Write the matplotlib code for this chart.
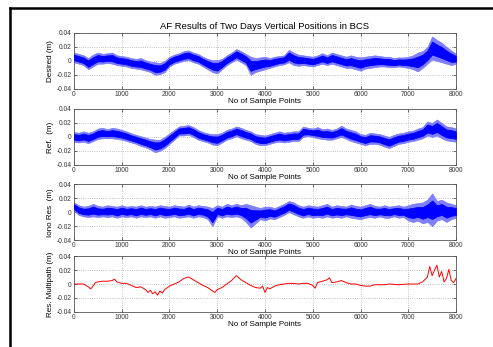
import numpy as np
import matplotlib
matplotlib.use('Agg')
import matplotlib.pyplot as plt
from matplotlib.lines import Line2D

plt.rcParams['font.family'] = ['Liberation Sans', 'DejaVu Sans']

# sample index for the envelope readings (every 100 samples)
samples = list(range(0, 8001, 100))

desired_hi = [0.012, 0.010, 0.008, 0.004, 0.009, 0.012, 0.010, 0.011, 0.012, 0.008,
              0.007, 0.006, 0.004, 0.003, 0.004, 0.001, -0.001, -0.002, -0.003, 0.000,
              0.006, 0.009, 0.011, 0.014, 0.015, 0.012, 0.010, 0.006, 0.003, 0.001,
              0.001, 0.003, 0.008, 0.012, 0.017, 0.014, 0.010, 0.006, 0.004, 0.005,
              0.006, 0.004, 0.006, 0.007, 0.008, 0.016, 0.012, 0.009, 0.008, 0.007,
              0.006, 0.008, 0.011, 0.008, 0.012, 0.010, 0.008, 0.006, 0.008, 0.006,
              0.005, 0.006, 0.007, 0.008, 0.007, 0.006, 0.006, 0.004, 0.005, 0.005,
              0.006, 0.008, 0.012, 0.014, 0.020, 0.035, 0.030, 0.026, 0.020, 0.015,
              0.010]
desired_lo = [-0.002, -0.004, -0.006, -0.012, -0.008, -0.004, -0.004, -0.003, -0.004, -0.006,
              -0.007, -0.008, -0.010, -0.011, -0.012, -0.014, -0.016, -0.020, -0.019, -0.016,
              -0.008, -0.004, -0.002, 0.000, 0.001, -0.002, -0.004, -0.008, -0.012, -0.016,
              -0.018, -0.012, -0.006, -0.002, 0.002, -0.002, -0.006, -0.020, -0.016, -0.014,
              -0.012, -0.010, -0.008, -0.006, -0.005, -0.002, -0.006, -0.007, -0.006, -0.007,
              -0.008, -0.006, -0.004, -0.006, -0.004, -0.006, -0.008, -0.010, -0.010, -0.012,
              -0.014, -0.011, -0.010, -0.009, -0.008, -0.008, -0.009, -0.009, -0.008, -0.009,
              -0.010, -0.012, -0.015, -0.010, -0.004, 0.002, 0.000, -0.002, -0.004, -0.006,
              -0.004]

ref_hi = [0.007, 0.006, 0.008, 0.006, 0.008, 0.012, 0.013, 0.011, 0.013, 0.012,
          0.010, 0.008, 0.005, 0.003, 0.001, -0.001, -0.003, -0.004, -0.004, 0.000,
          0.005, 0.010, 0.015, 0.016, 0.017, 0.014, 0.010, 0.007, 0.005, 0.004,
          0.004, 0.006, 0.010, 0.012, 0.015, 0.013, 0.010, 0.008, 0.004, 0.003,
          0.002, 0.004, 0.006, 0.008, 0.006, 0.007, 0.008, 0.008, 0.015, 0.013,
          0.012, 0.014, 0.011, 0.012, 0.010, 0.012, 0.016, 0.012, 0.010, 0.008,
          0.004, 0.003, 0.006, 0.005, 0.004, 0.002, 0.000, 0.003, 0.005, 0.006,
          0.008, 0.009, 0.012, 0.014, 0.022, 0.020, 0.025, 0.020, 0.015, 0.014,
          0.012]
ref_lo = [-0.007, -0.008, -0.007, -0.009, -0.006, -0.003, -0.002, -0.002, -0.002, -0.003,
          -0.004, -0.006, -0.008, -0.010, -0.013, -0.015, -0.018, -0.022, -0.020, -0.016,
          -0.010, -0.004, 0.002, 0.002, 0.003, 0.000, -0.004, -0.006, -0.008, -0.011,
          -0.012, -0.008, -0.004, -0.002, 0.001, -0.002, -0.004, -0.006, -0.010, -0.012,
          -0.012, -0.010, -0.008, -0.007, -0.008, -0.007, -0.006, -0.006, 0.000, 0.001,
          0.000, -0.002, -0.003, -0.004, -0.004, -0.002, 0.000, -0.003, -0.006, -0.008,
          -0.010, -0.012, -0.010, -0.010, -0.011, -0.014, -0.016, -0.013, -0.010, -0.009,
          -0.007, -0.006, -0.004, -0.002, 0.002, 0.000, 0.002, -0.002, -0.005, -0.006,
          -0.007]

iono_hi = [0.014, 0.010, 0.008, 0.009, 0.012, 0.009, 0.008, 0.010, 0.009, 0.008,
           0.010, 0.008, 0.009, 0.008, 0.010, 0.008, 0.009, 0.008, 0.010, 0.009,
           0.008, 0.010, 0.009, 0.008, 0.011, 0.008, 0.010, 0.009, 0.008, 0.006,
           0.010, 0.008, 0.012, 0.010, 0.012, 0.010, 0.012, 0.010, 0.008, 0.006,
           0.008, 0.008, 0.006, 0.009, 0.012, 0.016, 0.014, 0.010, 0.008, 0.010,
           0.009, 0.008, 0.010, 0.012, 0.008, 0.010, 0.009, 0.008, 0.011, 0.009,
           0.008, 0.010, 0.012, 0.009, 0.008, 0.010, 0.008, 0.009, 0.010, 0.008,
           0.010, 0.012, 0.013, 0.014, 0.018, 0.027, 0.016, 0.018, 0.014, 0.012,
           0.010]
iono_lo = [0.002, -0.004, -0.006, -0.007, -0.006, -0.007, -0.006, -0.007, -0.006, -0.008,
           -0.006, -0.007, -0.006, -0.008, -0.006, -0.007, -0.006, -0.008, -0.006, -0.008,
           -0.007, -0.006, -0.008, -0.007, -0.006, -0.008, -0.006, -0.007, -0.010, -0.020,
           -0.006, -0.008, -0.006, -0.007, -0.006, -0.008, -0.014, -0.022, -0.016, -0.010,
           -0.012, -0.009, -0.010, -0.007, -0.004, 0.000, -0.003, -0.006, -0.008, -0.006,
           -0.008, -0.007, -0.008, -0.006, -0.008, -0.007, -0.008, -0.006, -0.008, -0.009,
           -0.010, -0.008, -0.007, -0.008, -0.006, -0.008, -0.008, -0.006, -0.008, -0.007,
           -0.012, -0.014, -0.012, -0.016, -0.014, -0.020, -0.012, -0.010, -0.014, -0.010,
           -0.008]

mp_x = [0, 100, 200, 250, 300, 350, 400, 450, 500, 600, 700, 800, 850, 900,
        1000, 1100, 1200, 1300, 1400, 1500, 1550, 1600, 1650, 1700, 1750, 1800, 1850, 1900,
        2000, 2100, 2200, 2300, 2400, 2500, 2600, 2700, 2800, 2900, 2950, 3000, 3100,
        3200, 3300, 3400, 3500, 3600, 3700, 3800, 3900, 3950, 4000, 4050, 4100, 4200,
        4300, 4400, 4500, 4600, 4700, 4800, 4900, 5000, 5050, 5100, 5200, 5300, 5350,
        5400, 5500, 5600, 5700, 5800, 5900, 6000, 6100, 6200, 6300, 6400, 6500, 6600,
        6800, 7000, 7200, 7300, 7400, 7450, 7500, 7550, 7600, 7650, 7700, 7750, 7800,
        7850, 7900, 7950, 8000]
mp_y = [0.000, 0.000, 0.000, -0.002, -0.004, -0.007, -0.003, 0.002, 0.003, 0.004, 0.004, 0.005, 0.007, 0.003,
        0.001, 0.001, -0.002, -0.005, -0.004, -0.008, -0.012, -0.009, -0.014, -0.011, -0.016, -0.010, -0.013, -0.008,
        -0.003, 0.000, 0.003, 0.008, 0.010, 0.006, 0.002, -0.002, -0.005, -0.010, -0.012, -0.008, -0.005,
        0.000, 0.005, 0.012, 0.006, 0.002, -0.002, -0.005, -0.006, -0.003, -0.012, -0.005, -0.007, -0.003,
        -0.001, 0.000, 0.001, 0.001, 0.000, 0.001, 0.001, -0.002, -0.006, 0.002, 0.004, 0.006, 0.009,
        0.002, 0.003, 0.005, 0.002, 0.000, 0.000, -0.002, -0.003, -0.003, -0.001, -0.001, -0.001, 0.000,
        -0.001, 0.000, 0.000, 0.003, 0.010, 0.025, 0.012, 0.020, 0.027, 0.010, 0.018, 0.003, 0.008,
        0.021, 0.005, 0.002, 0.008]

fig = plt.figure(figsize=(4.93, 3.47), dpi=100)
fig.patch.set_facecolor('white')

left, width, height = 0.150, 0.775, 0.161
bottoms = [0.744, 0.525, 0.308, 0.101]
ylabels = ['Desired (m)', 'Ref.  (m)', 'Iono Res  (m)', 'Res. Multipath (m)']
bands = [(desired_lo, desired_hi), (ref_lo, ref_hi), (iono_lo, iono_hi), None]

x = np.array(samples)
for i, b in enumerate(bottoms):
    ax = fig.add_axes([left, b, width, height])
    if bands[i] is not None:
        lo = np.array(bands[i][0])
        hi = np.array(bands[i][1])
        ax.fill_between(x, lo, hi, color='#8080ff', linewidth=0.4,
                        edgecolor='#6a6aff', zorder=2)
        span = hi - lo
        ax.fill_between(x, lo + 0.22 * span, hi - 0.22 * span, color='#0000ff',
                        linewidth=0.6, edgecolor='#0000ff', zorder=3)
    else:
        ax.plot(mp_x, mp_y, color='#ff0000', linewidth=0.7, zorder=3)
    ax.set_xlim(0, 8000)
    ax.set_ylim(-0.04, 0.04)
    ax.set_xticks(range(0, 8001, 1000))
    ax.set_yticks([-0.04, -0.02, 0, 0.02, 0.04])
    ax.set_yticklabels(['-0.04', '-0.02', '0', '0.02', '0.04'])
    ax.grid(True, color='#b0b0b0', linestyle=':', linewidth=0.6, zorder=1)
    ax.tick_params(labelsize=4.8, direction='in', length=2, width=0.5,
                   top=True, right=True, pad=1.5, colors='#333333')
    for s in ax.spines.values():
        s.set_linewidth(0.6)
        s.set_color('#555555')
    ax.set_ylabel(ylabels[i], fontsize=5.8, labelpad=2)
    ax.set_xlabel('No of Sample Points', fontsize=5.8, labelpad=0)
    if i == 0:
        ax.set_title('AF Results of Two Days Vertical Positions in BCS', fontsize=6.8, pad=3)

# page frame lines
fig.add_artist(Line2D([0.021, 1.0], [0.978, 0.978], color='black', linewidth=1.8,
                      transform=fig.transFigure))
fig.add_artist(Line2D([0.021, 0.021], [0.0, 0.978], color='black', linewidth=1.8,
                      transform=fig.transFigure))

fig.savefig('out.png', dpi=100)
